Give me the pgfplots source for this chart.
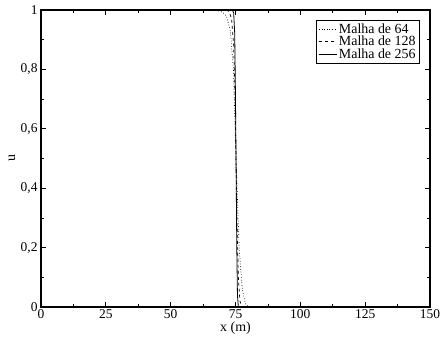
\documentclass[border=0pt]{standalone}
\usepackage{pgfplots}
\pgfplotsset{compat=1.18}
\usepackage{fontspec}
\setmainfont{Liberation Serif}
\begin{document}
\begin{tikzpicture}
\begin{axis}[
  scale only axis,
  width=389bp, height=297bp,
  xmin=0, xmax=150, ymin=0, ymax=1,
  xtick={0,25,...,150}, ytick={0,0.2,...,1},
  minor x tick num=1, minor y tick num=1,
  tick align=inside,
  major tick length=5bp, minor tick length=3bp,
  axis line style={line width=1.1pt},
  every tick/.style={black, line width=0.8pt},
  /pgf/number format/use comma,
  /pgf/number format/assume math mode=true,
  ticklabel style={font=\fontsize{13.5}{15}\selectfont},
  xticklabel style={yshift=1bp},
  xlabel={x (m)}, ylabel={u},
  xlabel style={font=\fontsize{14}{16}\selectfont, at={(rel axis cs:0.5,0)}, anchor=north, inner sep=0pt, yshift=-15bp},
  ylabel style={font=\fontsize{14}{16}\selectfont, at={(rel axis cs:0,0.5)}, anchor=center, inner sep=0pt, yshift=29bp},
  legend cell align=left,
  legend style={at={(0.974,0.966)}, anchor=north east, draw=black, line width=0.6pt,
    font=\fontsize{14}{15}\selectfont, inner xsep=2pt, inner ysep=1pt, row sep=-2.5pt},
  legend image post style={line width=0.6pt},
  legend image code/.code={\draw[#1] (0cm,0cm) -- (0.62cm,0cm);},
  clip=true,
]
\addplot[green!55!black, line width=0.5pt, forget plot] coordinates {(0,0) (150,0)};
\addplot[black, dotted, line width=0.7pt] coordinates {
 (0,1) (66,1) (68,0.998) (70,0.993) (71.5,0.98) (73,0.93) (74.2,0.8) (75.2,0.5) (76.4,0.2) (77.6,0.06) (78.8,0.012) (80,0) (150,0)};
\addlegendentry{Malha de 64}
\addplot[black, dashed, line width=0.7pt] coordinates {
 (0,1) (71.5,1) (72.5,0.995) (73.5,0.97) (74.3,0.88) (74.8,0.72) (75.2,0.5) (75.6,0.28) (76.1,0.1) (76.7,0.02) (77.5,0) (150,0)};
\addlegendentry{Malha de 128}
\addplot[black, solid, line width=0.8pt] coordinates {
 (0,1) (73.8,1) (74.3,0.99) (74.7,0.92) (75.0,0.7) (75.25,0.45) (75.5,0.2) (75.75,0.04) (76.1,0) (150,0)};
\addlegendentry{Malha de 256}
\coordinate (ll) at (rel axis cs:0,0);
\coordinate (ur) at (rel axis cs:1,1);
\end{axis}
\pgfresetboundingbox
\path ([shift={(-41bp,-30bp)}]ll) rectangle ([shift={(10bp,10bp)}]ur);
\end{tikzpicture}
\end{document}
